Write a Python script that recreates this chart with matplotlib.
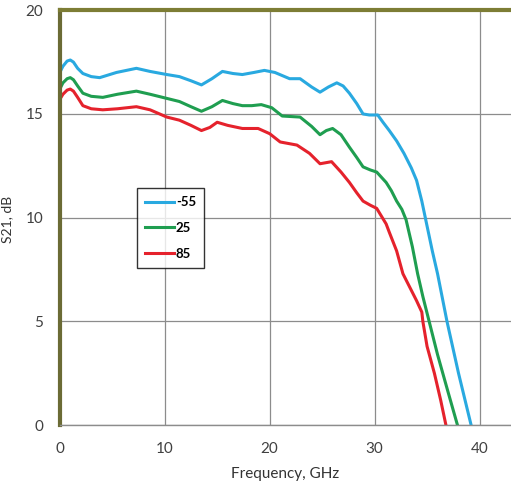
import matplotlib
matplotlib.use('Agg')
import matplotlib.pyplot as plt

plt.rcParams['font.family'] = ['Lato', 'DejaVu Sans']

# Frequency (GHz) and S21 (dB) for each temperature
freq_m55 = [0, 0.3, 0.7, 1.0, 1.3, 1.7, 2.2, 3.0, 3.8, 5.4, 7.3, 8.6, 10.2, 11.4, 12.5, 13.5, 14.5, 15.5, 16.5, 17.4, 18.5, 19.5,
            20.5, 21.9, 22.9, 24.0, 24.8, 25.6, 26.4, 27.0, 27.6, 28.3, 28.9, 29.5, 30.3, 30.8, 31.4, 32.1, 32.8, 33.5,
            34.0, 34.5, 35.0, 35.5, 36.0, 36.9, 38.0, 39.2]
s21_m55 = [17.0, 17.3, 17.55, 17.6, 17.5, 17.2, 16.95, 16.8, 16.75, 17.0, 17.2, 17.05, 16.9, 16.8, 16.6, 16.4, 16.7, 17.05, 16.95, 16.9, 17.0, 17.1,
           17.0, 16.7, 16.7, 16.3, 16.05, 16.3, 16.5, 16.35, 16.0, 15.5, 15.0, 14.95, 14.95, 14.6, 14.2, 13.7, 13.1, 12.4,
           11.8, 10.8, 9.6, 8.4, 7.3, 5.0, 2.5, 0.0]

freq_25 = [0, 0.3, 0.7, 1.0, 1.3, 1.7, 2.2, 3.0, 4.1, 5.5, 7.3, 8.6, 10.2, 11.4, 12.5, 13.5, 14.5, 15.5, 16.5, 17.4, 18.3, 19.2,
           20.2, 21.2, 22.9, 24.0, 24.8, 25.4, 26.0, 26.8, 27.6, 28.3, 28.9, 29.6, 30.2, 31.1, 31.6, 32.1, 32.6, 33.0,
           33.6, 34.1, 34.6, 35.2, 36.0, 37.0, 37.9]
s21_25 = [16.2, 16.5, 16.7, 16.75, 16.65, 16.35, 16.0, 15.85, 15.8, 15.95, 16.1, 15.95, 15.75, 15.6, 15.35, 15.13, 15.35, 15.65, 15.5, 15.4, 15.4, 15.45,
          15.3, 14.9, 14.85, 14.4, 14.0, 14.2, 14.3, 14.0, 13.4, 12.9, 12.45, 12.3, 12.2, 11.7, 11.3, 10.8, 10.4, 9.9,
          8.6, 7.3, 6.2, 5.0, 3.4, 1.6, 0.0]

freq_85 = [0, 0.3, 0.7, 1.0, 1.3, 1.7, 2.2, 3.0, 4.1, 5.5, 7.3, 8.6, 10.2, 11.4, 12.5, 13.5, 14.3, 15.0, 16.0, 17.4, 18.9, 20.0,
           21.0, 22.6, 23.8, 24.8, 25.9, 26.8, 27.6, 28.3, 28.9, 29.6, 30.2, 31.1, 31.4, 32.1, 32.7, 33.4, 34.0, 34.5,
           34.6, 35.0, 35.7, 36.3, 36.8]
s21_85 = [15.7, 15.95, 16.15, 16.2, 16.1, 15.8, 15.4, 15.25, 15.2, 15.25, 15.35, 15.2, 14.85, 14.7, 14.45, 14.2, 14.35, 14.6, 14.45, 14.3, 14.3, 14.05,
          13.65, 13.5, 13.1, 12.6, 12.7, 12.2, 11.7, 11.2, 10.8, 10.6, 10.45, 9.7, 9.3, 8.4, 7.3, 6.6, 6.0, 5.45,
          5.0, 3.8, 2.5, 1.2, 0.0]

fig = plt.figure(figsize=(5.11, 4.87), dpi=100)
ax = fig.add_axes([0.117, 0.127, 0.883, 0.852])

ax.plot(freq_m55, s21_m55, color='#29a9e0', lw=2.2, label='-55', solid_joinstyle='round')
ax.plot(freq_25, s21_25, color='#1f9e50', lw=2.2, label='25', solid_joinstyle='round')
ax.plot(freq_85, s21_85, color='#e5222c', lw=2.2, label='85', solid_joinstyle='round')

ax.set_xlim(0, 43)
ax.set_ylim(0, 20)
ax.set_xticks([0, 10, 20, 30, 40])
ax.set_yticks([0, 5, 10, 15, 20])
ax.grid(True, color='#8c8c8c', lw=0.9)
ax.set_axisbelow(True)
ax.tick_params(axis='x', length=0, labelsize=11, labelcolor='#404040', pad=12)
ax.tick_params(axis='y', length=0, labelsize=11, labelcolor='#404040', pad=12)

ax.spines['right'].set_visible(False)
ax.spines['top'].set_color('#7d7d35')
ax.spines['top'].set_linewidth(3)
ax.spines['left'].set_color('#6b6b35')
ax.spines['left'].set_linewidth(3)
ax.spines['bottom'].set_color('#8c8c8c')
ax.spines['bottom'].set_linewidth(1)

ax.set_xlabel('Frequency, GHz', fontsize=11, color='#333333', labelpad=8)
ax.set_ylabel('S21, dB', fontsize=10, color='#333333')
ax.yaxis.set_label_coords(0.026, 0.55, transform=fig.transFigure)

leg = ax.legend(loc='upper left', bbox_to_anchor=(0.171, 0.571), borderaxespad=0, frameon=True, fancybox=False,
                handlelength=2.2, handletextpad=0.15, borderpad=0.6, labelspacing=1.05,
                prop={'size': 9.5, 'weight': 'bold'})
leg.get_frame().set_edgecolor('black')
leg.get_frame().set_linewidth(1)

fig.savefig('out.png', dpi=100)
